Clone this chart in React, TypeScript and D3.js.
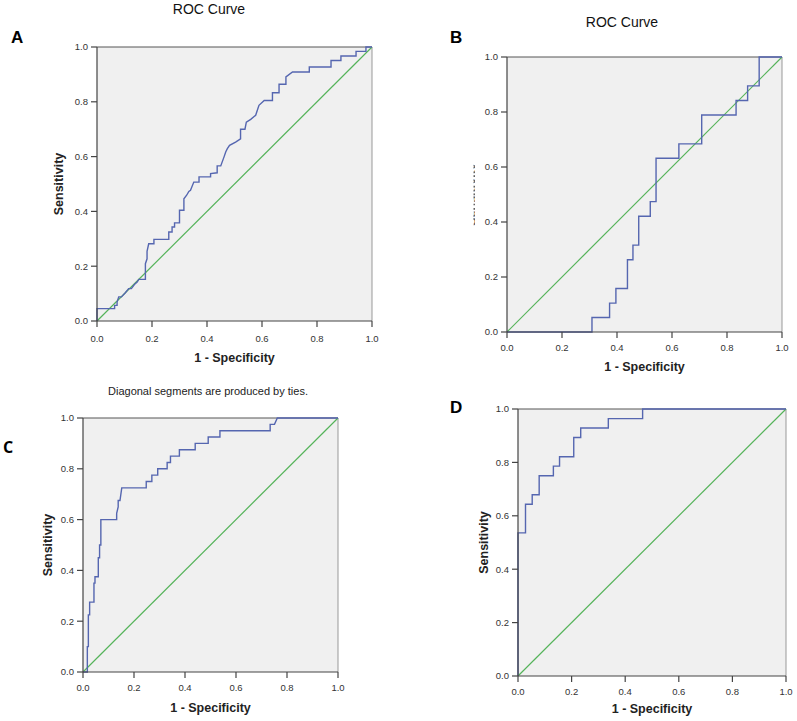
import React from "react";
import * as d3 from "d3";

// ROC coordinates (1 - specificity, sensitivity)
const fprA = [0, 0, 0.064, 0.064, 0.073, 0.073, 0.079, 0.089, 0.103, 0.115, 0.125, 0.136, 0.146, 0.152, 0.176, 0.176, 0.182, 0.182, 0.188, 0.207, 0.207, 0.261, 0.261, 0.273, 0.273, 0.282, 0.282, 0.3, 0.3, 0.316, 0.316, 0.326, 0.334, 0.34, 0.352, 0.371, 0.371, 0.413, 0.413, 0.437, 0.437, 0.45, 0.462, 0.468, 0.474, 0.482, 0.504, 0.522, 0.522, 0.538, 0.543, 0.559, 0.577, 0.583, 0.589, 0.608, 0.638, 0.638, 0.662, 0.662, 0.687, 0.687, 0.711, 0.772, 0.772, 0.851, 0.851, 0.887, 0.887, 0.942, 0.942, 0.978, 0.978, 1];
const tprA = [0, 0.045, 0.045, 0.057, 0.057, 0.069, 0.088, 0.088, 0.103, 0.118, 0.118, 0.133, 0.142, 0.152, 0.152, 0.209, 0.227, 0.254, 0.282, 0.282, 0.298, 0.298, 0.325, 0.325, 0.343, 0.343, 0.358, 0.358, 0.404, 0.404, 0.446, 0.459, 0.473, 0.477, 0.507, 0.507, 0.526, 0.526, 0.538, 0.541, 0.566, 0.566, 0.599, 0.617, 0.629, 0.641, 0.653, 0.665, 0.7, 0.7, 0.726, 0.736, 0.751, 0.769, 0.787, 0.805, 0.805, 0.833, 0.833, 0.864, 0.864, 0.891, 0.909, 0.909, 0.927, 0.927, 0.951, 0.951, 0.967, 0.967, 0.984, 0.984, 1, 1];

const fprB = [0, 0.309, 0.309, 0.373, 0.373, 0.396, 0.396, 0.438, 0.438, 0.458, 0.458, 0.479, 0.479, 0.521, 0.521, 0.542, 0.542, 0.625, 0.625, 0.708, 0.708, 0.833, 0.833, 0.875, 0.875, 0.917, 0.917, 1];
const tprB = [0, 0, 0.053, 0.053, 0.105, 0.105, 0.158, 0.158, 0.263, 0.263, 0.316, 0.316, 0.421, 0.421, 0.474, 0.474, 0.632, 0.632, 0.684, 0.684, 0.789, 0.789, 0.842, 0.842, 0.895, 0.895, 1, 1];

const fprC = [0, 0.017, 0.017, 0.021, 0.021, 0.026, 0.026, 0.043, 0.043, 0.047, 0.047, 0.06, 0.06, 0.065, 0.065, 0.07, 0.07, 0.132, 0.132, 0.138, 0.138, 0.145, 0.152, 0.248, 0.248, 0.27, 0.27, 0.293, 0.293, 0.33, 0.33, 0.343, 0.343, 0.378, 0.378, 0.44, 0.44, 0.491, 0.491, 0.537, 0.537, 0.734, 0.734, 0.751, 0.762, 1];
const tprC = [0, 0, 0.1, 0.1, 0.225, 0.225, 0.275, 0.275, 0.35, 0.35, 0.375, 0.375, 0.45, 0.45, 0.5, 0.5, 0.6, 0.6, 0.625, 0.65, 0.675, 0.675, 0.725, 0.725, 0.75, 0.75, 0.775, 0.775, 0.8, 0.8, 0.825, 0.825, 0.85, 0.85, 0.875, 0.875, 0.9, 0.9, 0.925, 0.925, 0.95, 0.95, 0.975, 0.975, 1, 1];

const fprD = [0, 0, 0.028, 0.028, 0.053, 0.053, 0.079, 0.079, 0.132, 0.132, 0.155, 0.155, 0.208, 0.208, 0.234, 0.234, 0.337, 0.337, 0.465, 0.465, 1];
const tprD = [0, 0.536, 0.536, 0.643, 0.643, 0.679, 0.679, 0.75, 0.75, 0.786, 0.786, 0.821, 0.821, 0.893, 0.893, 0.929, 0.929, 0.964, 0.964, 1, 1];

const tickValues = [0, 0.2, 0.4, 0.6, 0.8, 1.0];
const xTitle = "1 - Specificity";
const yTitle = "Sensitivity";

const FONT = "'Liberation Sans', Arial, sans-serif";
const BLUE = "#5566b0";
const GREEN = "#55b35a";

type PanelProps = {
  id: string;
  fpr: number[];
  tpr: number[];
  left: number;
  right: number;
  top: number;
  bottom: number;
  letter: { x: number; y: number; font?: string; size: number };
  yLabelX: number;
  xLabelY: number;
  tickLabelY: number;
  clipYLabel?: [number, number];
};

function Panel(p: PanelProps) {
  const x = d3.scaleLinear().domain([0, 1]).range([p.left, p.right]);
  const y = d3.scaleLinear().domain([0, 1]).range([p.bottom, p.top]);
  const fmt = d3.format(".1f");
  const pts = p.fpr.map((f, i) => [f, p.tpr[i]] as [number, number]);
  const line = d3
    .line<[number, number]>()
    .x((d) => x(d[0]))
    .y((d) => y(d[1]));
  const cy = (p.top + p.bottom) / 2;
  const cx = (p.left + p.right) / 2;
  const clipId = `clip-${p.id}`;

  return (
    <g>
      <rect x={p.left} y={p.top} width={p.right - p.left} height={p.bottom - p.top} fill="#f0f0f0" />
      <line x1={p.left} x2={p.right} y1={p.top} y2={p.top} stroke="#555" strokeWidth={1} />
      <line x1={p.right} x2={p.right} y1={p.top} y2={p.bottom} stroke="#999" strokeWidth={1} />
      <path d={line([[0, 0], [1, 1]]) || ""} fill="none" stroke={GREEN} strokeWidth={1.2} />
      <path d={line(pts) || ""} fill="none" stroke={BLUE} strokeWidth={1.4} />
      <line x1={p.left} x2={p.left} y1={p.top} y2={p.bottom} stroke="#444" strokeWidth={1.2} />
      <line x1={p.left} x2={p.right} y1={p.bottom} y2={p.bottom} stroke="#444" strokeWidth={1.2} />
      {tickValues.map((t) => (
        <g key={`y${t}`}>
          <line x1={p.left - 6} x2={p.left} y1={y(t)} y2={y(t)} stroke="#444" strokeWidth={1.2} />
          <text x={p.left - 9} y={y(t) + 3.4} textAnchor="end" fontSize={9.5} fill="#333" fontFamily={FONT}>
            {fmt(t)}
          </text>
        </g>
      ))}
      {tickValues.map((t) => (
        <g key={`x${t}`}>
          <line x1={x(t)} x2={x(t)} y1={p.bottom} y2={p.bottom + 6} stroke="#444" strokeWidth={1.2} />
          <text x={x(t)} y={p.tickLabelY} textAnchor="middle" fontSize={9.5} fill="#333" fontFamily={FONT}>
            {fmt(t)}
          </text>
        </g>
      ))}
      <text x={cx} y={p.xLabelY} textAnchor="middle" fontSize={12.5} fontWeight="bold" fill="#222" fontFamily={FONT}>
        {xTitle}
      </text>
      {p.clipYLabel ? (
        <>
          <clipPath id={clipId}>
            <rect x={p.clipYLabel[0]} y={p.top} width={p.clipYLabel[1] - p.clipYLabel[0]} height={p.bottom - p.top} />
          </clipPath>
          <g clipPath={`url(#${clipId})`} opacity={0.7}>
            <text transform={`translate(${p.yLabelX},${cy}) rotate(-90)`} textAnchor="middle" fontSize={12.5} fontWeight="bold" fill="#222" fontFamily={FONT}>
              {yTitle}
            </text>
          </g>
        </>
      ) : (
        <text transform={`translate(${p.yLabelX},${cy}) rotate(-90)`} textAnchor="middle" fontSize={12.5} fontWeight="bold" fill="#222" fontFamily={FONT}>
          {yTitle}
        </text>
      )}
      <text x={p.letter.x} y={p.letter.y} fontSize={p.letter.size} fontWeight="bold" fill="#000" fontFamily={p.letter.font || FONT}>
        {p.id}
      </text>
    </g>
  );
}

export default function App() {
  return (
    <svg
      width={797}
      height={721}
      style={{ position: "absolute", left: 0, top: 0, display: "block", background: "#fff" }}
    >
      <text x={209} y={14} textAnchor="middle" fontSize={14} fill="#111" fontFamily={FONT}>
        ROC Curve
      </text>
      <text x={622} y={27} textAnchor="middle" fontSize={14} fill="#111" fontFamily={FONT}>
        ROC Curve
      </text>
      <text x={208} y={395} textAnchor="middle" fontSize={11} fill="#222" fontFamily={FONT}>
        Diagonal segments are produced by ties.
      </text>
      <Panel id="A" fpr={fprA} tpr={tprA} left={97} right={372} top={47} bottom={321}
        letter={{ x: 11, y: 43, size: 17 }} yLabelX={62.5} xLabelY={361.5} tickLabelY={341.5} />
      <Panel id="B" fpr={fprB} tpr={tprB} left={507} right={782} top={57} bottom={332}
        letter={{ x: 450, y: 43, size: 17 }} yLabelX={476} xLabelY={371} tickLabelY={350.5}
        clipYLabel={[473.5, 475]} />
      <Panel id="C" fpr={fprC} tpr={tprC} left={83} right={338} top={418} bottom={672}
        letter={{ x: 3, y: 453, size: 16, font: "'Open Sans', sans-serif" }} yLabelX={51.5} xLabelY={712} tickLabelY={690.5} />
      <Panel id="D" fpr={fprD} tpr={tprD} left={518} right={786} top={409} bottom={676}
        letter={{ x: 450, y: 413, size: 17 }} yLabelX={487.5} xLabelY={713} tickLabelY={694.5} />
    </svg>
  );
}
